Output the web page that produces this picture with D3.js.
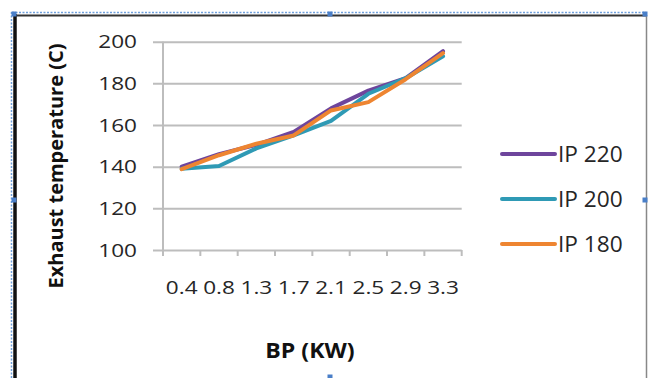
<!DOCTYPE html>
<html>
<head>
<meta charset="utf-8">
<script src="https://cdn.jsdelivr.net/npm/d3@7"></script>
<style>
  body { margin: 0; background: #fff; }
  svg { display: block; font-family: "Open Sans", sans-serif; }
</style>
</head>
<body>
<div id="chart-div"></div>
<script>
// Script globals
const CHART_WIDTH = 648
const CHART_HEIGHT = 378

// Chart data
const categories = ["0.4", "0.8", "1.3", "1.7", "2.1", "2.5", "2.9", "3.3"]
const seriesNames = ["IP 220", "IP 200", "IP 180"]
const ip220 = [140, 146, 150.5, 156.7, 168, 176.5, 182.5, 195.5]
const ip200 = [139, 140.3, 148.8, 155, 162, 175, 182.5, 193]
const ip180 = [138.8, 145.5, 151, 155, 167, 171, 182, 194.5]
const yTickValues = [100, 120, 140, 160, 180, 200]
const colors = ["#6e459c", "#2f9ab5", "#ee8531"]

// text in the source picture is a little stretched sideways
const STRETCH = 1.22

init();

function init () {
  const svg = d3.select("#chart-div").append("svg")
    .attr("width", CHART_WIDTH)
    .attr("height", CHART_HEIGHT)

  drawFrame(svg)
  drawChart(svg)
}

/**
 * chart object border and selection handles
 */
function drawFrame (svg) {
  // blue dotted selection outline
  svg.append("line").attr("x1", 12).attr("x2", 646).attr("y1", 12.5).attr("y2", 12.5)
    .attr("stroke", "#6fa0dc").attr("stroke-width", 1.5).attr("stroke-dasharray", "2,1.5")
  svg.append("line").attr("x1", 11.5).attr("x2", 11.5).attr("y1", 12).attr("y2", 378)
    .attr("stroke", "#6fa0dc").attr("stroke-width", 1.5).attr("stroke-dasharray", "2,1.5")
  // border
  svg.append("line").attr("x1", 14).attr("x2", 646).attr("y1", 15.5).attr("y2", 15.5)
    .attr("stroke", "#333").attr("stroke-width", 2)
  svg.append("line").attr("x1", 15).attr("x2", 15).attr("y1", 14).attr("y2", 378)
    .attr("stroke", "#111").attr("stroke-width", 3.5)
  svg.append("line").attr("x1", 646.5).attr("x2", 646.5).attr("y1", 15).attr("y2", 378)
    .attr("stroke", "#888").attr("stroke-width", 1.5)
  // handles
  const handles = [[14, 14], [330, 14], [645, 14], [14, 200], [645, 200], [330, 377]]
  svg.selectAll("rect.handle").data(handles).enter().append("rect")
    .attr("class", "handle")
    .attr("x", d => d[0] - 2.5).attr("y", d => d[1] - 2.5)
    .attr("width", 5).attr("height", 5)
    .attr("fill", "#4a7fc8")
}

/**
 * draw axes, grid, lines and legend
 */
function drawChart (svg) {
  const plotLeft = 163
  const plotRight = 461.7
  const plotTop = 41.7
  const plotBottom = 250

  const x = d3.scaleBand()
    .domain(categories)
    .range([plotLeft, plotRight])

  const y = d3.scaleLinear()
    .domain([100, 200])
    .range([plotBottom, plotTop])

  // horizontal gridlines (with outside tick stubs)
  svg.append("g")
    .attr("transform", `translate(${plotLeft},0)`)
    .call(d3.axisLeft(y).tickValues(yTickValues)
      .tickSize(-(plotRight - plotLeft)).tickSizeOuter(0).tickFormat(""))
    .call(g => g.select(".domain").remove())
    .call(g => g.selectAll(".tick line").attr("stroke", "#bdbdbd").attr("stroke-width", 2)
      .attr("x1", -10))

  // y axis line
  svg.append("line")
    .attr("x1", plotLeft).attr("x2", plotLeft)
    .attr("y1", y(200)).attr("y2", plotBottom + 5)
    .attr("stroke", "#bdbdbd").attr("stroke-width", 2)

  // y tick labels
  svg.append("g").selectAll("text").data(yTickValues).enter().append("text")
    .attr("transform", d => `translate(137,${y(d)}) scale(${STRETCH},1)`)
    .attr("dy", "0.36em")
    .attr("text-anchor", "end")
    .attr("font-size", 18.5)
    .attr("fill", "#262626")
    .text(d => d)

  // category boundary ticks on x axis
  const boundaries = categories.map(c => x(c)).concat([x(categories[categories.length - 1]) + x.bandwidth()])
  svg.append("g").selectAll("line").data(boundaries).enter().append("line")
    .attr("x1", d => d).attr("x2", d => d)
    .attr("y1", plotBottom).attr("y2", plotBottom + 6)
    .attr("stroke", "#bdbdbd").attr("stroke-width", 2)

  // x tick labels
  svg.append("g").selectAll("text").data(categories).enter().append("text")
    .attr("transform", d => `translate(${x(d) + x.bandwidth() / 2},294) scale(${STRETCH},1)`)
    .attr("text-anchor", "middle")
    .attr("font-size", 18.5)
    .attr("fill", "#262626")
    .text(d => d)

  // axis titles
  svg.append("text")
    .attr("transform", `translate(63,166) rotate(-90)`)
    .attr("text-anchor", "middle")
    .attr("font-size", 20)
    .attr("font-weight", "bold")
    .attr("fill", "#111")
    .text("Exhaust temperature (C)")

  svg.append("text")
    .attr("transform", `translate(310,358) scale(1.1,1)`)
    .attr("text-anchor", "middle")
    .attr("font-size", 21)
    .attr("font-weight", "bold")
    .attr("fill", "#111")
    .text("BP (KW)")

  // series lines
  const series = [ip220, ip200, ip180]
  const line = d3.line()
    .x((d, i) => x(categories[i]) + x.bandwidth() / 2)
    .y(d => y(d))

  svg.append("g").selectAll("path").data(series).enter().append("path")
    .attr("d", d => line(d))
    .attr("fill", "none")
    .attr("stroke", (d, i) => colors[i])
    .attr("stroke-width", 4)
    .attr("stroke-linejoin", "round")
    .attr("stroke-linecap", "round")

  // legend
  const legend = svg.append("g").selectAll("g").data(seriesNames).enter().append("g")
    .attr("transform", (d, i) => `translate(502,${154 + i * 45})`)
  legend.append("line")
    .attr("x1", 0).attr("x2", 53)
    .attr("stroke", (d, i) => colors[i])
    .attr("stroke-width", 4)
    .attr("stroke-linecap", "round")
  legend.append("text")
    .attr("transform", "translate(56,0) scale(1.08,1)")
    .attr("dy", "0.36em")
    .attr("font-size", 21)
    .attr("fill", "#262626")
    .text(d => d)
}
</script>
</body>
</html>
